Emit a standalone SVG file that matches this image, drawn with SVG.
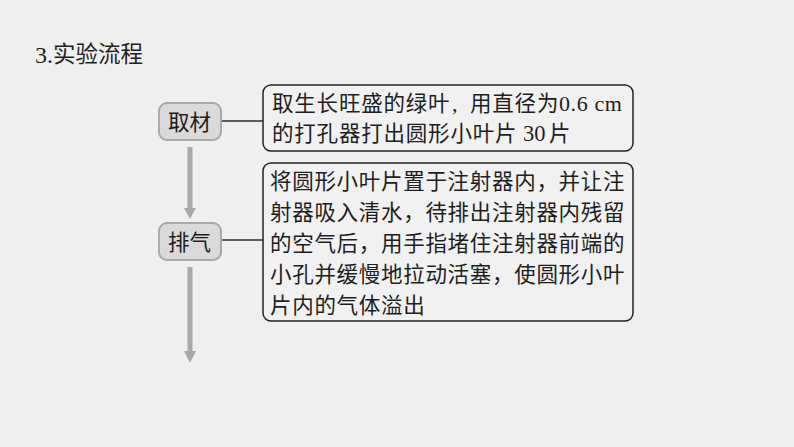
<svg xmlns="http://www.w3.org/2000/svg" width="794" height="447" viewBox="0 0 794 447">
<style>
.cjk{font-family:"Noto Sans CJK SC","Noto Sans",sans-serif;fill:#1e1e1e;}
.lat{font-family:"Liberation Serif","DejaVu Serif",serif;fill:#1e1e1e;}
.node{fill:#dadada;stroke:#a9a9a9;stroke-width:2;}
.box{fill:#f1f1f1;stroke:#232323;stroke-width:1.5;}
.conn{stroke:#2a2a2a;stroke-width:1.5;fill:none;}
.shaft{stroke:#a9a9a9;stroke-width:5;fill:none;}
.head{fill:#a9a9a9;}
</style>
<rect x="0" y="0" width="794" height="447" fill="#efefef"/>
<g id="title">
<text x="35" y="63" class="lat" font-size="24">3.</text>
<text x="53" y="62" class="cjk" font-size="22.5">实验流程</text>
</g>
<g id="connectors">
<line class="conn" x1="221" y1="121" x2="263" y2="121"/>
<line class="conn" x1="221" y1="240" x2="263" y2="240"/>
<line class="shaft" x1="190" y1="147" x2="190" y2="209"/>
<polygon class="head" points="184,208 196,208 190,219"/>
<line class="shaft" x1="190" y1="267" x2="190" y2="352"/>
<polygon class="head" points="184,351 196,351 190,363"/>
</g>
<g id="node-qucai">
<rect class="node" x="159" y="103" width="62" height="37" rx="8"/>
<text x="168" y="130" class="cjk" font-size="21.5">取材</text>
</g>
<g id="node-paiqi">
<rect class="node" x="159" y="223" width="62" height="37" rx="8"/>
<text x="168" y="250" class="cjk" font-size="21.5">排气</text>
</g>
<g id="box-qucai">
<rect class="box" x="263" y="85" width="370" height="66" rx="8"/>
<text y="111" class="cjk" font-size="21.5" letter-spacing="0.8"><tspan x="272">取生长旺盛的绿叶</tspan><tspan x="452" class="lat" font-size="22" letter-spacing="0">,</tspan><tspan x="470">用直径为</tspan><tspan x="559" class="lat" font-size="22" letter-spacing="0.6">0.6 cm</tspan></text>
<text y="141" class="cjk" font-size="21.5" letter-spacing="0.8"><tspan x="272">的打孔器打出圆形小叶片</tspan><tspan x="523" class="lat" font-size="22.5" letter-spacing="0">30</tspan><tspan x="549">片</tspan></text>
</g>
<g id="box-paiqi">
<rect class="box" x="263" y="163" width="370" height="158" rx="8"/>
<text class="cjk" font-size="21.5" letter-spacing="0.7">
<tspan x="270" y="189">将圆形小叶片置于注射器内，并让注</tspan>
<tspan x="270" y="220">射器吸入清水，待排出注射器内残留</tspan>
<tspan x="270" y="251">的空气后，用手指堵住注射器前端的</tspan>
<tspan x="270" y="282">小孔并缓慢地拉动活塞，使圆形小叶</tspan>
<tspan x="270" y="313">片内的气体溢出</tspan>
</text>
</g>
</svg>
